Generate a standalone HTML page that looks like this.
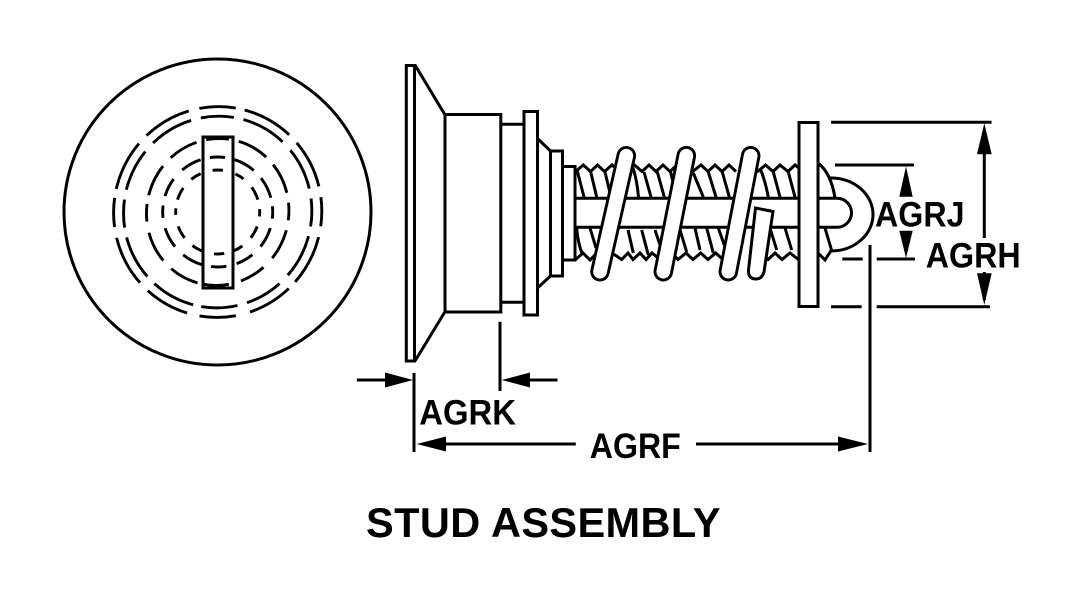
<!DOCTYPE html>
<html><head><meta charset="utf-8"><style>html,body{margin:0;padding:0;background:#fff;overflow:hidden}svg{display:block}text{font-family:"Liberation Sans",Arial,sans-serif;font-weight:bold;fill:#000}</style></head><body>
<svg width="1077" height="593" viewBox="0 0 1077 593" xmlns="http://www.w3.org/2000/svg">
<rect width="1077" height="593" fill="#fff"/>
<g fill="none" stroke="#000">
<ellipse cx="217.5" cy="212" rx="153.5" ry="153" stroke-width="3"/>
<rect x="203" y="137" width="30" height="151" fill="#fff" stroke-width="3"/>
<g stroke-width="2.9">
<ellipse pathLength="360" cx="217.7" cy="212" rx="105.5" ry="104" transform="rotate(-75 217.7 212)" stroke-dasharray="28 6 27 6 16 6 28 5 25 8 20 7 25 6 28 6 16 5 28 6 27 6 20 5"/>
<ellipse pathLength="360" cx="217.7" cy="212" rx="96" ry="94" transform="rotate(-74 217.7 212)" stroke-dasharray="27 7 26 6 17 6 27 7 23 6 22 5 27 6 27 6 17 6 26 7 27 6 20 6"/>
<ellipse pathLength="360" cx="217.7" cy="212" rx="73.7" ry="71" transform="rotate(-73 217.7 212)" stroke-dasharray="25 8 25 8 14 8 25 10 21 10 20 5 24 9 25 9 14 7 26 9 24 8 18 8"/>
<circle pathLength="360" cx="217.7" cy="212" r="55" transform="rotate(-72 217.7 212)" stroke-dasharray="23 11 23 9 13 10 22 12 19 11 16 10 22 12 22 11 13 10 20 13 22 10 16 10"/>
<circle pathLength="360" cx="217.7" cy="212" r="42" transform="rotate(-65 217.7 212)" stroke-dasharray="13 16 19 13 10 14 18 16 13 14 14 14 18 15 18 16 9 12 18 16 15 17 14 18"/>
</g>
</g>
<g fill="none" stroke="#000" stroke-width="3">
<rect x="406.3" y="65.5" width="8.2" height="295.5" fill="#fff"/>
<path d="M415 65L444.5 114M415 361L444.5 312.5"/>
<rect x="445" y="114.5" width="55.8" height="197.5"/>
<path d="M501 124.3H524M501 302.3H524"/>
<rect x="524" y="111.5" width="13.5" height="203.5"/>
<path d="M537.5 138.5L550.5 151M537.5 288L550.5 276"/>
<rect x="550.5" y="151" width="12" height="125"/>
<rect x="562.5" y="166.5" width="12.5" height="93.5"/>
<!-- threads -->
<polyline points="575,172 583.3,165 590.5,171.5 597.5,165 604.5,171.5 612,165 620,172"/>
<polyline points="627,171.5 634.5,165 642,171.5 649,165 656,171.5 663,165 670,171.5 677,165 682,170"/>
<polyline points="692,172 701,165 708,171.5 715,165 722,171.5 729,165 736,171.5"/>
<polyline points="757,172 765.5,165 773,171.5 780,165 788,171.5 795,165 799,168"/>
<polyline points="575,260 583,253 590,260 597,253 604,260 611,253"/>
<polyline points="612,253 621.7,259.5 628,253 633,259.5 640,253 646,259.5 652,253 660,259.5"/>
<polyline points="672,253 678,259.5 686,253 693,259.5 700.7,253 708,259.5 715.7,253 723,259.5 729,253"/>
<polyline points="760,253 768,259.5 775,253 782,259.5 790,253 799,260"/>
<path d="M577.3 171L584 197M590.7 172L596.7 197M605 172L611 197M633 168Q637 180 638.5 197M644 172L651 197M657.3 172L664.3 197M670.5 172L677 197M693.3 173L703.3 197M708.3 172L716 197M722.3 172L729.3 197M760 168Q765 180 768.3 197M773.3 172L780 197M788.3 172L795 197"/>
<path d="M576.7 228Q578 244 582.7 255M590 228L596 248M603 228L609 250M628 230L633.3 253M641.7 230L648.3 255M655 230L661.7 250M680 230L686.7 252M695 228L700 250M706.7 228L713.3 253M718.3 228L725 247M770 228L776.7 250M785 228L791.7 250"/>
<path d="M575 198.3H798M575 227.3H798"/>
</g>
<!-- spring coils -->
<g fill="none" stroke-linecap="round">
<path d="M626.3 155.7L600 271.7" stroke="#000" stroke-width="19.5"/>
<path d="M626.3 155.7L600 271.7" stroke="#fff" stroke-width="13.7"/>
<path d="M686.3 155.7L663.3 271.7" stroke="#000" stroke-width="19.5"/>
<path d="M686.3 155.7L663.3 271.7" stroke="#fff" stroke-width="13.7"/>
<path d="M750.7 155.7L728.3 271.7" stroke="#000" stroke-width="19.5"/>
<path d="M750.7 155.7L728.3 271.7" stroke="#fff" stroke-width="13.7"/>
</g>
<path d="M755.5 208L773 211.5L764 272Q762 279 756 279Q748 279 748.5 270Z" fill="#fff" stroke="#000" stroke-width="3"/>
<rect x="799" y="122.5" width="19" height="184" fill="#fff" stroke="#000" stroke-width="3"/>
<g fill="none" stroke="#000" stroke-width="3">
<path d="M818 198.3H837A14.5 14.5 0 0 1 837 227.3H818"/>
<path d="M818 163Q831 173 835 198M825 228L831.5 250L825 260L818 253"/>
<path d="M830 178A42 36.5 0 0 1 832 251"/>
</g>
<!-- dimensions -->
<g fill="none" stroke="#000" stroke-width="3">
<path d="M831 122.3H991.5M835 165H914M842.3 259H862.7M876.7 259H915M831 306.7H861.7M876.7 306.7H990"/>
<path d="M984.3 150V238M984.3 272V300"/>
<path d="M870 245V452M414 373V452M500 321.7V391"/>
<path d="M356.8 380H390M512 380H557.5M440 444H575.8M696 444H845"/>
</g>
<g fill="#000">
<polygon points="906,166.5 899.3,196.7 912.7,196.7"/>
<polygon points="906,258 899.3,230.7 912.7,230.7"/>
<polygon points="984.3,123.3 977,154.3 991.7,154.3"/>
<polygon points="984.3,305 977,273.3 991.7,273.3"/>
<polygon points="413,380 385,372.5 385,387.5"/>
<polygon points="501.7,380 530,372.5 530,387.5"/>
<polygon points="416.7,444 446,436.5 446,451.5"/>
<polygon points="868,444 838,436.5 838,451.5"/>
</g>
<text x="875" y="226.7" font-size="35.5" textLength="89.5" lengthAdjust="spacingAndGlyphs">AGRJ</text>
<text x="925.7" y="267.3" font-size="35.5" textLength="95" lengthAdjust="spacingAndGlyphs">AGRH</text>
<text x="419.3" y="424.3" font-size="35.5" textLength="96.7" lengthAdjust="spacingAndGlyphs">AGRK</text>
<text x="589.8" y="458" font-size="35.5" textLength="91" lengthAdjust="spacingAndGlyphs">AGRF</text>
<text x="366" y="537" font-size="41.5" textLength="354.5" lengthAdjust="spacing">STUD ASSEMBLY</text>
</svg>
</body></html>
